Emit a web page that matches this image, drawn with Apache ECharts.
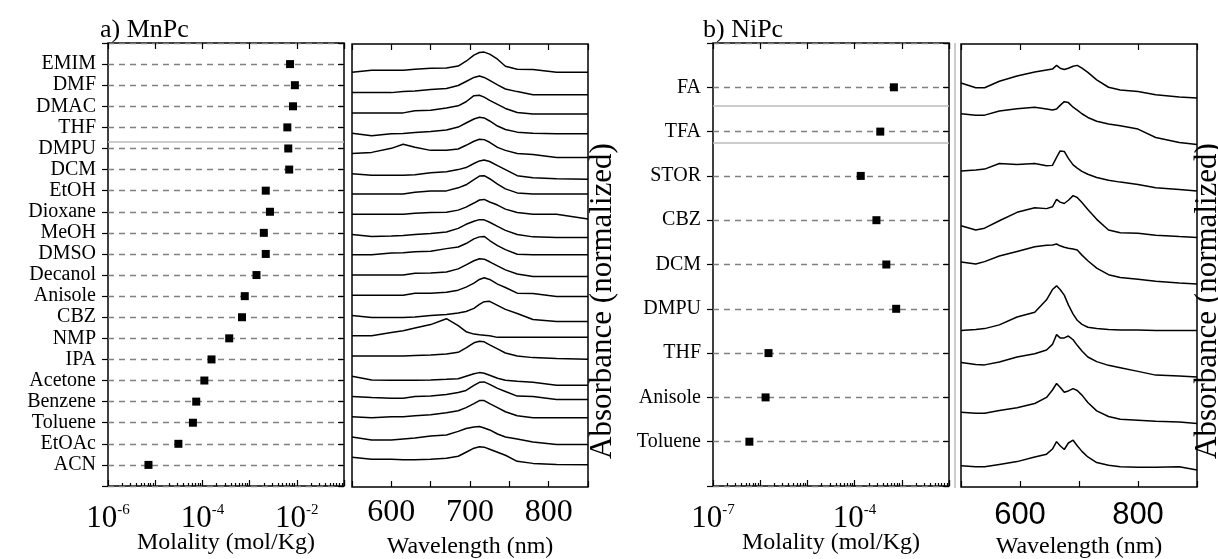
<!DOCTYPE html>
<html><head><meta charset="utf-8">
<script src="https://cdn.jsdelivr.net/npm/echarts@6/dist/echarts.min.js"></script>
<style>html,body{margin:0;padding:0;background:#fff}#c{width:1218px;height:559px}</style>
</head><body><div id="c"></div>
<script>
// ---------- DATA ----------
const mnSolvents = ['EMIM','DMF','DMAC','THF','DMPU','DCM','EtOH','Dioxane','MeOH','DMSO','Decanol','Anisole','CBZ','NMP','IPA','Acetone','Benzene','Toluene','EtOAc','ACN'];
const mnMolality = [7.2e-3, 9.1e-3, 8.3e-3, 6.3e-3, 6.6e-3, 6.9e-3, 2.2e-3, 2.7e-3, 2.0e-3, 2.2e-3, 1.4e-3, 7.9e-4, 6.9e-4, 3.7e-4, 1.56e-4, 1.1e-4, 7.4e-5, 6.3e-5, 3.1e-5, 7.2e-6];
const mnSeparators = [4.68];

const niSolvents = ['FA','TFA','STOR','CBZ','DCM','DMPU','THF','Anisole','Toluene'];
const niMolality = [6.8e-4, 3.5e-4, 1.35e-4, 2.9e-4, 4.7e-4, 7.6e-4, 1.5e-6, 1.3e-6, 5.9e-7];
const niSeparators = [1.42, 2.25];

const mnLogLabels = [1e-6, 1e-4, 1e-2];
const niLogLabels = [1e-7, 1e-4];
const mnWaveLabels = [600, 700, 800];
const niWaveLabels = [600, 800];

// MnPc normalized spectra (one row per solvent, same order as mnSolvents)
const mnWavelength = [550,575,600,615,630,650,670,685,695,705,712,718,725,735,745,760,780,810,850];
const mnSpectra = [
  [0,0.1,0.11,0.11,0.15,0.2,0.22,0.31,0.55,0.85,0.98,1.0,0.9,0.65,0.3,0.15,0.14,0,0],
  [0,0,0,0.05,0.08,0.16,0.2,0.35,0.55,0.75,0.82,0.75,0.6,0.38,0.18,0.05,-0.1,-0.11,-0.11],
  [0,0,0,0,0.11,0.13,0.24,0.35,0.55,0.85,0.87,0.78,0.62,0.42,0.22,0.02,-0.05,-0.05,-0.05],
  [0,-0.13,-0.03,-0.02,0.03,0.08,0.16,0.3,0.5,0.7,0.78,0.75,0.6,0.35,0.18,0.05,0,-0.03,-0.03],
  [0,0.05,0.25,0.45,0.3,0.15,0.15,0.22,0.4,0.6,0.7,0.68,0.55,0.3,0.15,0,-0.05,-0.2,-0.2],
  [0,-0.08,-0.08,-0.08,-0.05,0.05,0.1,0.2,0.3,0.5,0.63,0.67,0.6,0.4,0.2,-0.1,-0.2,-0.25,-0.28],
  [0,0,0,0,0.08,0.15,0.15,0.3,0.45,0.7,0.88,0.9,0.75,0.48,0.25,0.05,0,0,0],
  [0,0,0,0,0.05,0.08,0.1,0.2,0.35,0.55,0.7,0.73,0.6,0.45,0.25,0.08,0,0,-0.24],
  [0,-0.1,-0.08,-0.05,0,0.05,0.12,0.3,0.5,0.65,0.73,0.72,0.6,0.4,0.2,0,-0.12,-0.15,-0.15],
  [0,0,0.08,0.1,0.15,0.17,0.3,0.38,0.55,0.78,0.88,0.9,0.7,0.45,0.25,0.02,0,0,0],
  [0,0,0,0,0.08,0.1,0.15,0.3,0.5,0.7,0.8,0.78,0.65,0.45,0.25,0.05,-0.08,-0.08,-0.08],
  [0,0,0,0,0.1,0.1,0.15,0.25,0.4,0.6,0.78,0.86,0.78,0.55,0.38,0.1,0.08,-0.06,-0.06],
  [0,-0.1,-0.1,-0.1,-0.08,0,0.05,0.12,0.2,0.35,0.55,0.68,0.7,0.5,0.3,0.1,-0.2,-0.3,-0.3],
  [0,0,0.16,0.25,0.38,0.55,0.84,0.5,0.2,0.08,0.05,0.03,0,-0.08,-0.08,-0.08,-0.08,-0.08,-0.08],
  [0,0,0,0,0.03,0.05,0.1,0.18,0.4,0.65,0.73,0.7,0.55,0.35,0.15,0,-0.08,-0.12,-0.16],
  [0,-0.18,-0.2,-0.2,-0.2,-0.18,-0.15,-0.12,0,0.12,0.18,0.15,0.05,-0.1,-0.2,-0.25,-0.3,-0.44,-0.44],
  [0,-0.05,-0.08,-0.08,0,0.02,0.1,0.2,0.3,0.55,0.7,0.72,0.6,0.4,0.25,0.02,0,-0.15,-0.15],
  [0,-0.05,0,0,0.05,0.1,0.2,0.3,0.45,0.65,0.8,0.8,0.65,0.45,0.25,0.05,-0.05,-0.05,-0.05],
  [0,-0.15,-0.15,-0.1,-0.05,0.05,0.1,0.28,0.42,0.5,0.52,0.45,0.35,0.15,0,-0.1,-0.25,-0.37,-0.37],
  [0,-0.1,-0.1,-0.12,-0.12,-0.1,-0.05,0.05,0.25,0.45,0.52,0.5,0.4,0.25,0.1,-0.2,-0.3,-0.35,-0.37]
];

// NiPc normalized spectra (same order as niSolvents)
const niWavelength = [500,525,540,565,595,625,645,655,662,668,675,682,690,697,705,715,730,750,770,800,830,870,900];
const niSpectra = [
  [0.32,0.22,0.22,0.36,0.47,0.56,0.6,0.62,0.7,0.64,0.61,0.64,0.68,0.7,0.64,0.55,0.39,0.23,0.17,0.14,0.07,0.02,0],
  [0.66,0.63,0.63,0.72,0.77,0.8,0.76,0.74,0.76,0.84,0.92,0.9,0.8,0.74,0.66,0.58,0.5,0.44,0.4,0.33,0.15,0.04,0],
  [0.43,0.45,0.47,0.59,0.57,0.59,0.54,0.55,0.72,0.86,0.85,0.7,0.56,0.49,0.42,0.36,0.29,0.23,0.19,0.14,0.07,0.03,0],
  [0.25,0.16,0.2,0.36,0.54,0.64,0.62,0.66,0.82,0.76,0.73,0.8,0.9,0.86,0.75,0.6,0.39,0.16,0.1,0.09,0.05,0.02,0],
  [0.47,0.43,0.48,0.6,0.7,0.8,0.83,0.84,0.86,0.82,0.79,0.77,0.75,0.73,0.62,0.5,0.34,0.2,0.14,0.1,0.06,0.02,0],
  [0,0.02,0.04,0.12,0.29,0.39,0.66,0.88,0.96,0.88,0.76,0.55,0.35,0.22,0.13,0.07,0.04,0.02,0.01,0.01,0,0,0],
  [0.31,0.27,0.26,0.32,0.43,0.5,0.58,0.7,0.91,0.84,0.84,0.88,0.8,0.68,0.56,0.43,0.33,0.25,0.2,0.12,0.04,0.02,0],
  [0.24,0.22,0.22,0.28,0.34,0.43,0.56,0.72,0.86,0.78,0.67,0.7,0.75,0.71,0.61,0.45,0.27,0.15,0.09,0.07,0.05,0.03,0],
  [0.09,0.07,0.07,0.12,0.18,0.28,0.34,0.45,0.61,0.52,0.44,0.58,0.64,0.52,0.4,0.28,0.16,0.1,0.07,0.06,0.06,0.07,0]
];

// ---------- CHART ----------
const SERIF = 'Liberation Serif', SANS = 'Liberation Sans';
const chart = echarts.init(document.getElementById('c'), null, {renderer: 'canvas'});

const sameDecade = (a, b) => Math.abs(Math.log10(a) - Math.log10(b)) < 1e-6;
const logFmt = labels => v => labels.some(l => sameDecade(l, v)) ? '{b|10}{s|' + Math.round(Math.log10(v)) + '}' : '';
const richLog = {
  b: {fontFamily: SERIF, fontSize: 31, color: '#000'},
  s: {fontFamily: SERIF, fontSize: 15, color: '#000', verticalAlign: 'top'}
};
const tickStyle = {color: '#000', width: 1.2};
function xa(o) {
  return Object.assign({
    axisLine: {show: false, onZero: false}, splitLine: {show: false},
    axisTick: {show: true, inside: true, length: 6, lineStyle: tickStyle},
    axisLabel: {show: false}, nameMoveOverlap: false
  }, o);
}
const nameStyle = {fontFamily: SERIF, fontSize: 24, color: '#000'};
const minorTicks = (lo, hi) => { const t = []; for (let e = lo; e < hi; e++) for (let k = 2; k <= 9; k++) t.push(k * Math.pow(10, e)); return t; };

const grids = [
  {left: 108, top: 43, width: 236, height: 443},
  {left: 352, top: 44, width: 236, height: 443},
  {left: 713, top: 43, width: 236, height: 443},
  {left: 961, top: 44, width: 236, height: 443}
].map(g => Object.assign({show: true, borderColor: '#000', borderWidth: 1.5, backgroundColor: 'transparent',
                          containLabel: false, outerBoundsMode: 'none'}, g));

const xAxes = [
  // 0: MnPc molality bottom
  xa({type: 'log', gridIndex: 0, position: 'bottom', min: 1e-6, max: 1e-1, splitNumber: 5,
      axisLabel: {show: true, margin: 17, formatter: logFmt(mnLogLabels), rich: richLog},
      name: 'Molality (mol/Kg)', nameLocation: 'middle', nameGap: 45, nameTextStyle: nameStyle}),
  xa({type: 'log', gridIndex: 0, position: 'top', min: 1e-6, max: 1e-1, splitNumber: 5}),
  // 2: MnPc wavelength
  xa({type: 'value', gridIndex: 1, position: 'bottom', min: 550, max: 850, interval: 50,
      axisLabel: {show: true, margin: 10, fontFamily: SERIF, fontSize: 32, color: '#000',
                  formatter: v => mnWaveLabels.includes(v) ? String(v) : ''},
      name: 'Wavelength (nm)', nameLocation: 'middle', nameGap: 48, nameTextStyle: nameStyle}),
  xa({type: 'value', gridIndex: 1, position: 'top', min: 550, max: 850, interval: 50}),
  // 4: NiPc molality
  xa({type: 'log', gridIndex: 2, position: 'bottom', min: 1e-7, max: 1e-2, splitNumber: 5,
      axisLabel: {show: true, margin: 17, formatter: logFmt(niLogLabels), rich: richLog},
      name: 'Molality (mol/Kg)', nameLocation: 'middle', nameGap: 45, nameTextStyle: nameStyle}),
  xa({type: 'log', gridIndex: 2, position: 'top', min: 1e-7, max: 1e-2, splitNumber: 5}),
  // 6: NiPc wavelength
  xa({type: 'value', gridIndex: 3, position: 'bottom', min: 500, max: 900, interval: 100,
      axisLabel: {show: true, margin: 13, fontFamily: SANS, fontSize: 31, color: '#000',
                  formatter: v => niWaveLabels.includes(v) ? String(v) : ''},
      name: 'Wavelength (nm)', nameLocation: 'middle', nameGap: 48, nameTextStyle: nameStyle}),
  xa({type: 'value', gridIndex: 3, position: 'top', min: 500, max: 900, interval: 100}),
  // 8,9: minor log ticks
  xa({type: 'log', gridIndex: 0, position: 'bottom', min: 1e-6, max: 1e-1,
      axisTick: {show: true, inside: true, length: 3, lineStyle: tickStyle, customValues: minorTicks(-6, -1)}}),
  xa({type: 'log', gridIndex: 2, position: 'bottom', min: 1e-7, max: 1e-2,
      axisTick: {show: true, inside: true, length: 3, lineStyle: tickStyle, customValues: minorTicks(-7, -2)}})
];

function catAxis(grid, names, pos) {
  const left = pos === 'left';
  return {
    type: 'value', gridIndex: grid, position: pos, inverse: true, min: 0, max: names.length + 1, interval: 1,
    axisLine: {show: false, onZero: false},
    axisTick: {show: true, inside: !left, length: 6, lineStyle: tickStyle},
    axisLabel: {show: left, margin: 12, fontFamily: SERIF, fontSize: 20, color: '#000',
                formatter: v => names[Math.round(v) - 1] || ''},
    splitLine: {show: left, lineStyle: {color: '#808080', width: 1.4, type: [6, 5]}}
  };
}
const yAxes = [
  catAxis(0, mnSolvents, 'left'),
  catAxis(0, mnSolvents, 'right'),
  {type: 'value', gridIndex: 1, min: -1.466, max: 20.4, show: false, axisLine: {onZero: false}},
  catAxis(2, niSolvents, 'left'),
  catAxis(2, niSolvents, 'right'),
  {type: 'value', gridIndex: 3, min: -0.366, max: 9.16, show: false, axisLine: {onZero: false}}
];

const sepLine = vals => ({silent: true, symbol: 'none', label: {show: false}, animation: false,
  lineStyle: {color: '#bbb', type: 'solid', width: 1.5}, data: vals.map(v => ({yAxis: v}))});

const series = [
  {type: 'scatter', xAxisIndex: 0, yAxisIndex: 0, symbol: 'rect', symbolSize: 8, itemStyle: {color: '#000', opacity: 1},
   data: mnMolality.map((v, i) => [v, i + 1]), markLine: sepLine(mnSeparators), z: 5},
  {type: 'scatter', xAxisIndex: 4, yAxisIndex: 3, symbol: 'rect', symbolSize: 8, itemStyle: {color: '#000', opacity: 1},
   data: niMolality.map((v, i) => [v, i + 1]), markLine: sepLine(niSeparators), z: 5}
];
mnSpectra.forEach((row, i) => series.push({
  type: 'line', xAxisIndex: 2, yAxisIndex: 2, showSymbol: false, silent: true,
  lineStyle: {color: '#000', width: 1.5},
  data: mnWavelength.map((w, k) => [w, row[k] + (mnSpectra.length - 1 - i)])
}));
niSpectra.forEach((row, i) => series.push({
  type: 'line', xAxisIndex: 6, yAxisIndex: 5, showSymbol: false, silent: true,
  lineStyle: {color: '#000', width: 1.5},
  data: niWavelength.map((w, k) => [w, row[k] + (niSpectra.length - 1 - i)])
}));

chart.setOption({
  animation: false,
  backgroundColor: '#fff',
  title: [
    {text: 'a) MnPc', left: 95, top: 12, textStyle: {fontFamily: SERIF, fontSize: 26, fontWeight: 'normal', color: '#000'}},
    {text: 'b) NiPc', left: 698, top: 12, textStyle: {fontFamily: SERIF, fontSize: 26, fontWeight: 'normal', color: '#000'}}
  ],
  graphic: [
    {type: 'line', shape: {x1: 955, y1: 43, x2: 955, y2: 488}, style: {stroke: '#bbb', lineWidth: 1.5}},
    {type: 'text', x: 603, y: 301, rotation: Math.PI / 2,
     style: {text: 'Absorbance (normalized)', font: '31px "Liberation Serif"', fill: '#000', align: 'center', verticalAlign: 'middle'}},
    {type: 'text', x: 1208, y: 301, rotation: Math.PI / 2,
     style: {text: 'Absorbance (normalized)', font: '31px "Liberation Serif"', fill: '#000', align: 'center', verticalAlign: 'middle'}}
  ],
  grid: grids,
  xAxis: xAxes,
  yAxis: yAxes,
  series: series
});
</script></body></html>
